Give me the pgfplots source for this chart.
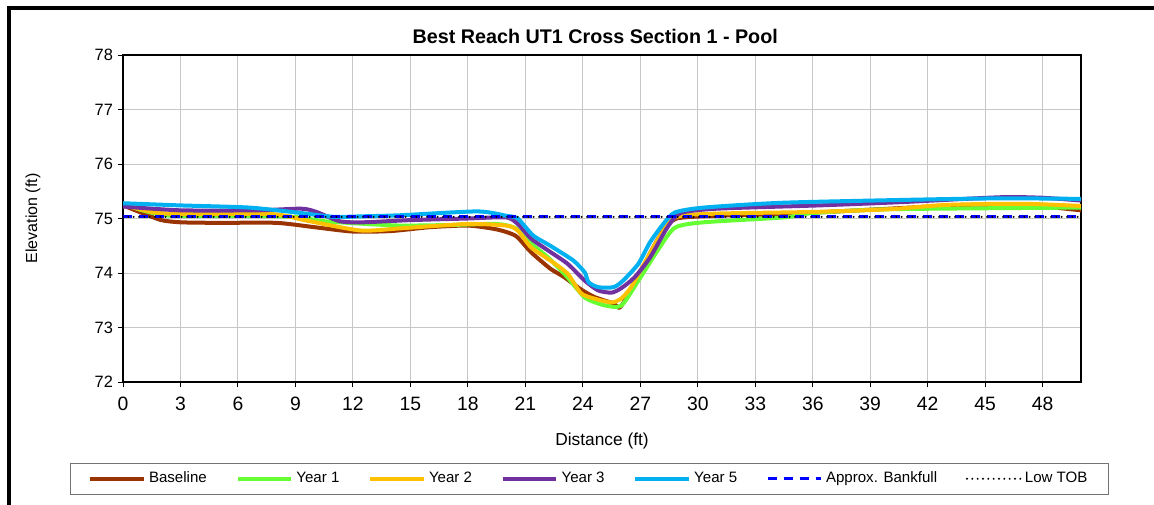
\documentclass[border=0pt]{standalone}
\usepackage{fontspec}
\setmainfont{Liberation Sans}
\usepackage{pgfplots}
\pgfplotsset{compat=1.18}
\definecolor{cBase}{HTML}{993300}
\definecolor{cY1}{HTML}{66FF33}
\definecolor{cY2}{HTML}{FFC000}
\definecolor{cY3}{HTML}{7030A0}
\definecolor{cY5}{HTML}{00B0F0}
\definecolor{cBank}{HTML}{0000FF}
\begin{document}
\begin{tikzpicture}
\path[use as bounding box] (0,0) rectangle (865.5pt,378.75pt);
\draw[line width=3pt] (7.1pt,0) -- (7.1pt,373pt) -- (866pt,373pt);
\begin{axis}[
  at={(92.25pt,92.25pt)}, anchor=south west,
  scale only axis, width=718.5pt, height=245.25pt,
  xmin=0, xmax=50, ymin=72, ymax=78,
  xtick={0,3,...,48}, ytick={72,73,...,78},
  tick pos=left,
  grid=major, grid style={black!22, line width=0.7pt},
  axis line style={line width=1.2pt},
  tick align=outside, major tick length=4pt,
  tick style={black, line width=0.7pt},
  /pgf/number format/assume math mode=true,
  xticklabel style={font=\fontsize{14.5}{16}\selectfont, yshift=-4pt},
  yticklabel style={font=\fontsize{12.3}{14}\selectfont},
  title={Best Reach UT1 Cross Section 1 - Pool},
  title style={font=\bfseries\fontsize{14.8}{17}\selectfont, at={(axis description cs:0.493,1.032)}, anchor=center},
  xlabel={Distance (ft)},
  xlabel style={font=\fontsize{13}{15}\selectfont, at={(axis description cs:0.5,-0.18)}, anchor=center},
  ylabel={Elevation (ft)},
  ylabel style={font=\fontsize{12}{14}\selectfont, at={(axis description cs:-0.094,0.5)}, anchor=center, rotate=0},
  legend columns=7,
  legend style={at={(axis description cs:0.487,-0.296)}, anchor=center,
    draw=black!55, line width=0.7pt, font=\fontsize{11.3}{13}\selectfont,
    inner xsep=13pt, inner ysep=5pt,
    nodes={text height=0.75em, text depth=0.22em, inner xsep=2.6pt},
    /tikz/every odd column/.append style={column sep=0pt},
    /tikz/every even column/.append style={column sep=19pt}},
  legend image code/.code={\draw[#1] (0pt,0pt) -- (40pt,0pt);},
  every axis plot/.append style={line join=round},
]
\addplot[cBase, line width=3pt, smooth, tension=0.4] coordinates {
(0,75.24) (1,75.1) (2,74.97) (3,74.93) (5,74.92) (8,74.92) (10,74.84) (12,74.76) (14,74.77) (16,74.84) (18,74.87) (19.5,74.8) (20.5,74.68) (21.3,74.38) (22.3,74.08) (23,73.93) (23.9,73.70) (24.6,73.56) (25.6,73.44) (25.9,73.36) (26.2,73.50) (26.9,73.92) (27.5,74.36) (28.2,74.78) (28.9,75.00) (31,75.05) (35,75.09) (40,75.18) (44,75.25) (47,75.25) (50,75.15)};
\addlegendentry{Baseline}
\addplot[cY1, line width=3pt, smooth, tension=0.4] coordinates {
(0,75.28) (1,75.15) (2.5,75.05) (6,75.05) (8.9,75.03) (10.5,74.95) (12.7,74.9) (14.5,74.87) (17,74.88) (19.5,74.9) (20.5,74.82) (21.1,74.6) (22.2,74.28) (23.2,73.92) (24.1,73.55) (25.1,73.41) (26,73.4) (26.9,73.86) (27.9,74.41) (28.8,74.83) (30.3,74.93) (34.5,75.02) (36,75.1) (40,75.17) (50,75.2)};
\addlegendentry{Year 1}
\addplot[cY2, line width=3pt, smooth, tension=0.4] coordinates {
(0,75.25) (1.5,75.12) (3,75.08) (7.8,75.08) (9.6,74.96) (12.4,74.78) (14.5,74.82) (18,74.9) (20,74.87) (20.6,74.78) (21.3,74.47) (22.3,74.23) (23.2,73.99) (23.9,73.63) (24.6,73.53) (25.5,73.46) (26,73.53) (26.5,73.73) (27.2,74.17) (28.1,74.72) (28.9,75.03) (31,75.09) (36,75.12) (40,75.17) (43,75.25) (47,75.27) (50,75.23)};
\addlegendentry{Year 2}
\addplot[cY3, line width=3pt, smooth, tension=0.4] coordinates {
(0,75.22) (3,75.15) (7,75.15) (9.3,75.18) (10.1,75.12) (11.3,74.95) (12.5,74.93) (15,74.97) (18,75.0) (20,75.02) (20.6,74.9) (21.3,74.63) (22.2,74.41) (23.2,74.17) (24.1,73.86) (24.8,73.68) (25.5,73.64) (26,73.72) (26.7,73.92) (27.5,74.28) (28.4,74.83) (29.1,75.1) (31,75.18) (36.3,75.24) (40.6,75.3) (45.8,75.39) (48,75.38) (50,75.33)};
\addlegendentry{Year 3}
\addplot[cY5, line width=3pt, smooth, tension=0.4] coordinates {
(0,75.28) (3,75.24) (6.6,75.2) (9.3,75.1) (11,75.03) (12.5,75.04) (14.5,75.06) (18.5,75.13) (20,75.05) (20.6,75.0) (21.4,74.69) (22.3,74.5) (23.5,74.23) (24.1,74.01) (24.3,73.83) (24.8,73.74) (25.6,73.74) (26.1,73.86) (26.9,74.17) (27.5,74.56) (28.2,74.9) (28.8,75.11) (30.3,75.2) (34.5,75.29) (42,75.35) (46,75.37) (50,75.36)};
\addlegendentry{Year 5}
\addplot[cBank, line width=2.4pt, dash pattern=on 7pt off 5pt] coordinates {(0,75.03) (50,75.03)};
\addlegendentry{Approx. Bankfull}
\addplot[black, line width=1.6pt, dash pattern=on 0pt off 4pt, line cap=round] coordinates {(0,75.03) (50,75.03)};
\addlegendentry{Low TOB}
\end{axis}
\end{tikzpicture}
\end{document}
